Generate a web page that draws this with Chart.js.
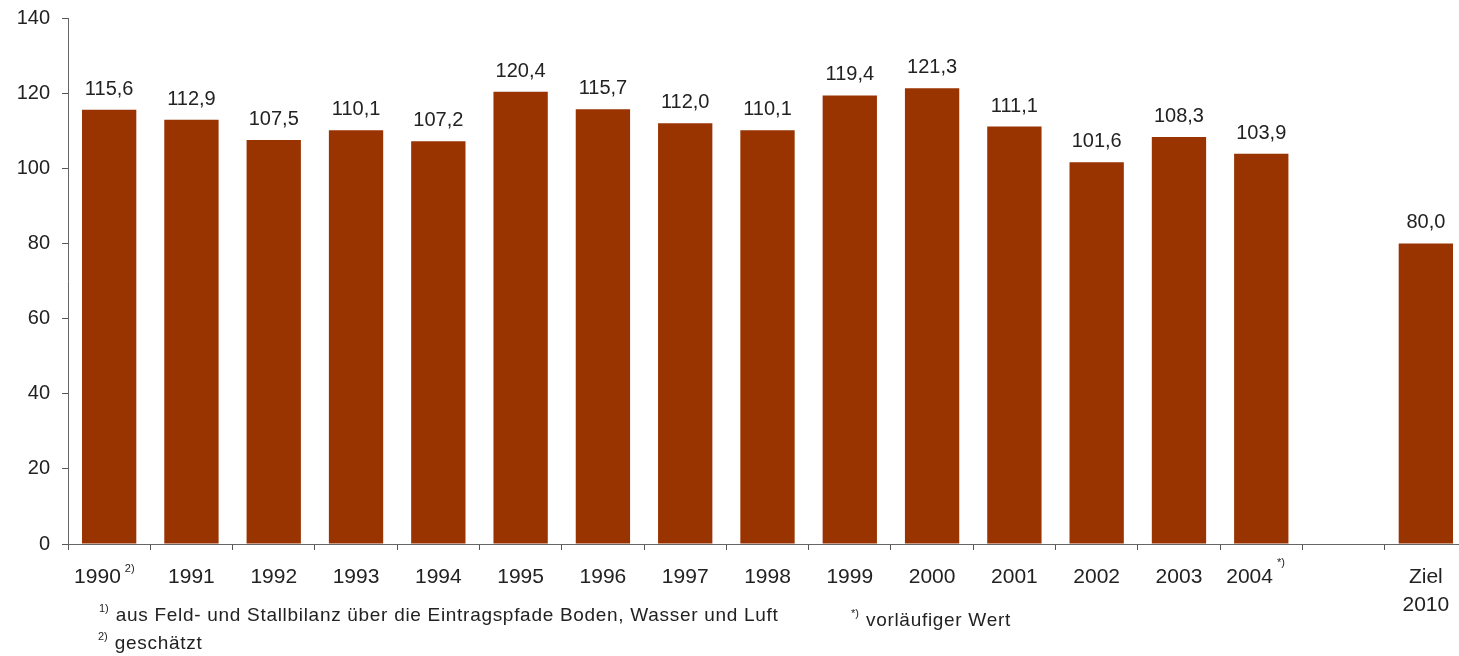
<!DOCTYPE html>
<html>
<head>
<meta charset="utf-8">
<script src="https://cdn.jsdelivr.net/npm/chart.js@4.4.0/dist/chart.umd.min.js"></script>
<style>
  html, body { margin: 0; padding: 0; background: #fff; overflow: hidden; }
  #wrap { position: relative; width: 1459px; height: 656px; overflow: hidden; }
  canvas { position: absolute; left: 0; top: 0; }
  .note { position: absolute; font-family: "Liberation Sans", Arial, sans-serif; font-size: 19px; letter-spacing: 0.7px; color: #222; white-space: nowrap; }
  .note sup { font-size: 11px; letter-spacing: 0; position: relative; top: -2px; vertical-align: top; margin-right: 7px; }
</style>
</head>
<body>
<div id="wrap">
  <canvas id="chart" width="1470" height="656"></canvas>
  <div class="note" style="left:99px; top:604px;"><sup>1)</sup>aus Feld- und Stallbilanz über die Eintragspfade Boden, Wasser und Luft</div>
  <div class="note" style="left:851px; top:609px;"><sup>*)</sup>vorläufiger Wert</div>
  <div class="note" style="left:98px; top:632px;"><sup>2)</sup>geschätzt</div>
</div>
<script>
const years = ['1990', '1991', '1992', '1993', '1994', '1995', '1996', '1997', '1998', '1999', '2000', '2001', '2002', '2003', '2004', '', ['Ziel', '2010']];
const values = [115.6, 112.9, 107.5, 110.1, 107.2, 120.4, 115.7, 112.0, 110.1, 119.4, 121.3, 111.1, 101.6, 108.3, 103.9, null, 80.0];
const yTicks = [0, 20, 40, 60, 80, 100, 120, 140];
const footMarks = { 0: '2)', 14: '*)' };

const barColor = '#993300';
const textColor = '#222';
const font = '"Liberation Sans", Arial, sans-serif';

// labels with a note mark get trailing spaces so the mark fits in the centering
const labels = years.map((y, i) => footMarks[i] ? y + '    ' : y);

const valueLabels = {
  id: 'valueLabels',
  afterDatasetsDraw(chart) {
    const ctx = chart.ctx;
    const meta = chart.getDatasetMeta(0);
    ctx.save();
    ctx.font = '20px ' + font;
    ctx.fillStyle = textColor;
    ctx.textAlign = 'center';
    ctx.textBaseline = 'alphabetic';
    meta.data.forEach((bar, i) => {
      const v = values[i];
      if (v == null) return;
      ctx.fillText(v.toFixed(1).replace('.', ','), bar.x, bar.y - 15);
    });
    ctx.restore();
  }
};

const footMarksPlugin = {
  id: 'footMarks',
  afterDraw(chart) {
    const ctx = chart.ctx;
    const xs = chart.scales.x;
    ctx.save();
    Object.keys(footMarks).forEach(k => {
      const i = Number(k);
      ctx.font = '21px ' + font;
      const w = ctx.measureText(years[i]).width;
      const full = ctx.measureText(labels[i]).width;
      const cx = xs.getPixelForTick(i);
      const x = cx - full / 2 + w + 4;
      ctx.font = '11px ' + font;
      ctx.fillStyle = textColor;
      ctx.textAlign = 'left';
      ctx.textBaseline = 'alphabetic';
      ctx.fillText(footMarks[k], x, i === 14 ? 566 : 572);
    });
    ctx.restore();
  }
};

new Chart(document.getElementById('chart'), {
  type: 'bar',
  data: {
    labels: labels,
    datasets: [{
      data: values,
      backgroundColor: barColor,
      borderWidth: 0,
      barPercentage: 0.66,
      categoryPercentage: 1.0
    }]
  },
  options: {
    responsive: false,
    animation: false,
    layout: { padding: { top: 18, right: 3, left: 0, bottom: 0 } },
    plugins: {
      legend: { display: false },
      tooltip: { enabled: false }
    },
    scales: {
      x: {
        offset: true,
        grid: { offset: true, drawOnChartArea: false, drawTicks: true, tickLength: 6, color: '#555' },
        border: { display: true, color: '#666', dash: [2, 1] },
        ticks: {
          color: textColor,
          font: { family: font, size: 21, lineHeight: 1.35 },
          padding: 13,
          maxRotation: 0,
          autoSkip: false
        },
        afterFit(s) { s.height = 112; }
      },
      y: {
        min: 0,
        max: 140,
        afterBuildTicks(s) { s.ticks = yTicks.map(v => ({ value: v })); },
        grid: { drawOnChartArea: false, drawTicks: true, tickLength: 6, color: '#555' },
        border: { display: true, color: '#666', dash: [2, 1] },
        ticks: {
          color: textColor,
          font: { family: font, size: 20, lineHeight: 0.5 },
          padding: 12
        },
        afterFit(s) { s.width = 68; s.paddingTop = 0; s.paddingBottom = 0; }
      }
    }
  },
  plugins: [valueLabels, footMarksPlugin]
});
</script>
</body>
</html>
